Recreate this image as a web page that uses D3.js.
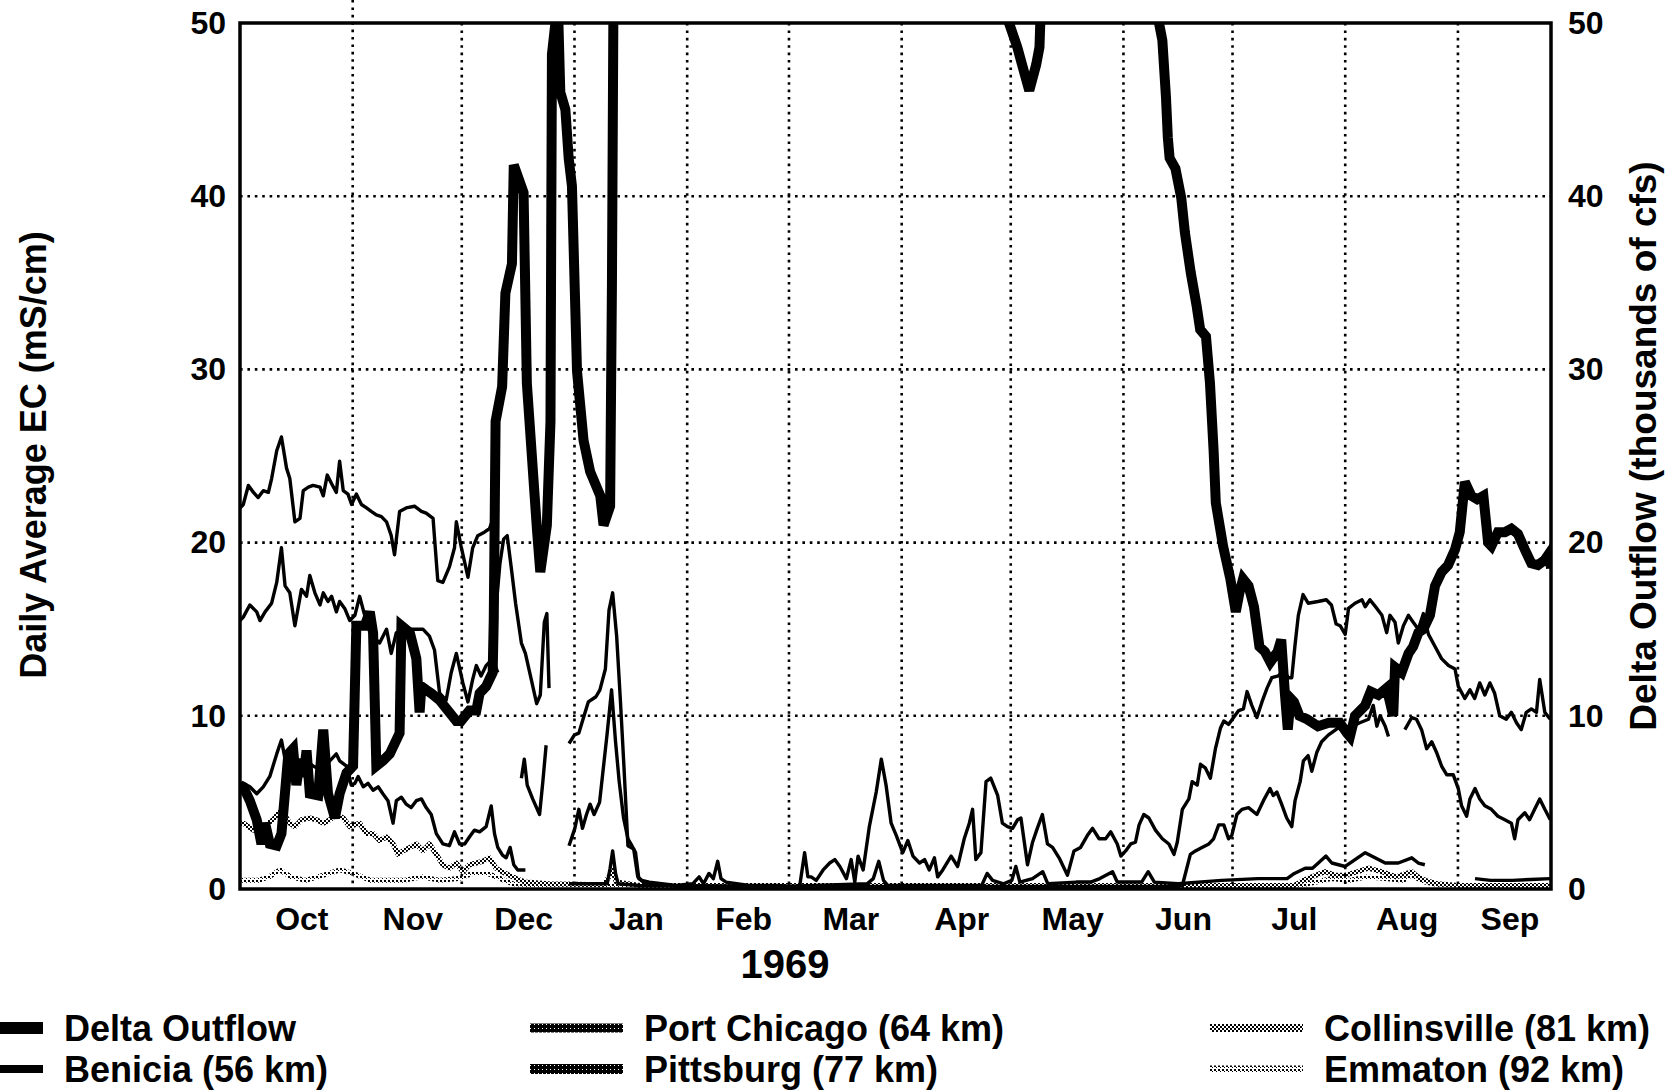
<!DOCTYPE html>
<html>
<head>
<meta charset="utf-8">
<script src="https://cdn.jsdelivr.net/npm/d3@7"></script>
<style>
  body { margin: 0; background: #fff; }
</style>
</head>
<body>
<div id="vis"></div>
<script>
// ---- data (day = days since 1 Oct 1968, value = EC mS/cm or thousands of cfs) ----
const months = ["Oct", "Nov", "Dec", "Jan", "Feb", "Mar", "Apr", "May", "Jun", "Jul", "Aug", "Sep"];
const yTicks = [0, 10, 20, 30, 40, 50];
const yearLabel = "1969";
const legendNames = ["Delta Outflow", "Benicia (56 km)", "Port Chicago (64 km)",
                     "Pittsburg (77 km)", "Collinsville (81 km)", "Emmaton (92 km)"];

// values above 50 run off the top of the chart
const deltaOutflow = [[0,6.0],[0.9,5.9],[2.7,5.1],[4.6,4.0],[5.9,2.6],[6.9,3.8],[8.2,2.6],[10.1,2.5],[11.4,3.2],[13.3,7.8],[14.6,8.1],[15.5,6.0],[16.5,7.5],[17.5,6.5],[18.3,8.0],[19.2,5.5],[21.5,5.4],[22.9,9.2],[24.2,5.5],[26.1,4.1],[27.4,5.5],[29.3,6.7],[31.1,7.1],[32.0,15.2],[34.3,15.2],[35.7,16.0],[36.6,14.8],[37.5,7.1],[39.3,7.4],[41.2,7.8],[43.9,9.0],[44.4,15.2],[46.7,14.8],[48.5,13.3],[49.4,10.2],[49.9,11.7],[51.2,11.5],[52.6,11.3],[54.9,10.9],[57.6,10.2],[59.5,9.7],[60.8,9.7],[63.1,10.3],[65.0,10.3],[65.9,11.3],[67.7,11.7],[69.5,12.5],[69.8,15.6],[70.3,27.0],[72.1,29.0],[73.0,34.4],[74.8,36.1],[75.3,41.8],[78.0,40.2],[78.9,29.2],[81.7,20.7],[82.6,18.3],[84.4,21.0],[85.4,27.0],[85.8,48.2],[86.7,49.9],[87.6,49.9],[88.1,46.0],[89.5,45.0],[90.4,42.2],[91.3,40.6],[92.7,29.9],[94.5,25.9],[96.3,24.1],[99.1,22.7],[100.0,21.0],[101.8,22.1],[102.3,34.8],[102.7,50.5],[103.5,90],[210.5,90],[211.2,50.2],[213.8,48.6],[215.9,47.0],[217.1,46.1],[219.0,47.6],[219.9,48.6],[220.2,50.5],[221,90],[251.8,90],[252.6,50.2],[253.7,49.0],[254.7,45.7],[255.2,43.4],[255.7,42.2],[257.3,41.6],[258.9,39.9],[259.9,37.9],[261.5,35.6],[263.1,33.7],[264.1,32.3],[265.7,31.9],[266.8,29.2],[267.8,25.3],[268.4,22.3],[270.4,19.8],[272.4,17.9],[273.9,16.0],[274.9,17.1],[275.9,17.9],[277.4,17.5],[278.9,16.3],[280.4,14.0],[281.9,13.7],[283.4,13.1],[285.4,13.7],[286.4,14.4],[287.4,11.3],[288.2,9.2],[289.0,11.0],[289.9,10.8],[291.4,10.0],[293.5,9.8],[296.5,9.4],[299.5,9.6],[302.5,9.6],[304.5,9.0],[305.3,8.8],[306.7,10.0],[309.5,10.6],[311.0,11.4],[313.1,11.2],[315.4,11.6],[317.2,10.0],[317.7,12.8],[319.5,12.5],[321.4,13.6],[322.7,14.0],[324.1,14.8],[325.5,15.0],[327.3,15.8],[328.7,17.5],[330.5,18.3],[332.3,18.7],[334.2,19.6],[335.5,20.6],[336.9,23.5],[338.7,22.7],[340.3,22.5],[342.0,22.7],[343.3,20.0],[344.2,19.8],[346.0,20.6],[347.9,20.6],[349.7,20.8],[351.5,20.5],[353.4,19.6],[355.2,18.8],[357.0,18.7],[358.9,19.0],[360.2,19.4],[360.6,18.5]];

const benicia = [[0,22.0],[0.9,22.2],[2.3,23.3],[3.7,22.9],[5,22.6],[6.4,23],[7.8,22.9],[8.7,23.7],[10.1,25.3],[11.4,26.1],[12.8,24.3],[13.7,23.7],[15.1,21.2],[16.5,21.4],[17.4,23],[18.8,23.2],[20.1,23.3],[22,23.2],[22.9,22.7],[24,23.9],[25.2,23.4],[26.5,22.9],[27.4,24.7],[28.4,23],[29.7,22.8],[30.7,22.2],[32,22.8],[33.4,22.2],[34.8,22],[36.1,21.8],[37.5,21.6],[38.9,21.5],[40.3,21.2],[41.6,20.4],[42.5,19.3],[43.9,21.8],[45.7,22],[48,22.1],[49.9,21.8],[51.2,21.7],[53.1,21.4],[54.4,17.8],[55.8,17.7],[57.6,18.6],[59,19.7],[59.5,21.2],[60.8,19.8],[62.7,18],[64,19.7],[65.4,20.4],[67.2,20.6],[68.6,20.8],[69.3,21.2],
  null,
  [70.5,16.4],[71.5,18.8],[72.5,20.2],[73.5,20.4],[74.7,18.4],[75.8,16.5],[77.4,14.2],[78.5,13.6],[80,12.2],[81.6,10.7],[82.6,11.2],[83.7,15.4],[84.4,15.9],[85,11.6],
  null,
  [90.5,8.4],[92,8.9],[93.2,9],[94.2,9.7],[95.8,10.8],[97.9,11.1],[99,11.5],[100.5,12.7],[101.5,16.1],[102.5,17.1],[103.6,14.6],[104.6,11],[105.6,7.1],[106.7,2.5],[108.3,2.3],[109.4,0.7],[110.5,0.5],[112.6,0.4],[120,0.2],[124.5,0.3],[126.3,0.7],[127.5,0.3],[129,0.9],[130.2,0.6],[131.4,1.6],[132.3,0.6],[133.7,0.4],[140,0.2],[148,0.2],[153.9,0.1],[155.3,2.1],[156.2,0.7],[157.1,0.7],[158.5,0.5],[160.4,1.1],[162.2,1.5],[163.6,1.7],[165,1.3],[166.8,0.6],[168.1,1.7],[169.1,0.4],[170,1.9],[171.4,1.1],[173.1,3.6],[175,5.6],[176.4,7.5],[177.7,6],[179.1,3.8],[180.5,3.1],[182.3,2.1],[183.7,2.8],[185.1,1.9],[186.9,1.5],[188.3,1.7],[189.6,1.1],[191,1.8],[191.9,0.7],[193.3,1.1],[195.6,1.9],[197.4,1.3],[199.2,2.9],[200.6,3.8],[201.5,4.6],[202.4,1.7],[203.8,2.1],[205.2,6.2],[206.5,6.4],[208.4,5.4],[209.7,3.8],[211.1,3.6],[212.5,3.5],[213.9,4],[214.8,4.1],[216.6,1.4],[218,2.7],[219.3,3.5],[220.7,4.3],[222.1,2.6],[223.5,2.4],[225.3,1.8],[227.6,0.8],[229.4,2.2],[231.2,2.4],[233.1,3.1],[234.5,3.5],[236.3,2.9],[238.1,2.9],[239.5,3.3],[241.3,2.6],[242.3,1.9],[243.6,2.2],[245,2.6],[246.3,2.7],[247.3,3.7],[248.6,4.3],[250,4.1],[251.8,3.4],[253.7,2.9],[255.5,2.6],[256.9,2],[257.8,2.7],[259.2,4.6],[261,5.2],[261.9,6.2],[263.3,6],[264.2,7.2],[265.5,7],[266.9,6.4],[268.3,8.1],[269.7,9.3],[270.6,9.7],[271.9,9.5],[273.3,9.9],[274.7,10.3],[276,10.4],[277,11.4],[278.3,10.6],[279.7,9.9],[281.1,10.8],[282.5,11.6],[283.8,12.2],[285.6,12.3],[287,12.6],[288.4,12.2],[289.3,12.2],[290.2,14.1],[291.1,15.8],[292.4,17],[293.8,16.5],[296.5,16.6],[298.8,16.7],[300.2,16.4],[301.5,15.3],[302.6,15.2],[304,14.7],[304.9,16.2],[306.7,16.5],[308.6,16.7],[309.5,16.3],[310.8,16.7],[312.7,16.2],[314.1,15.8],[315.4,14.8],[316.3,15.8],[317.7,15.4],[318.6,14.2],[320,15.2],[321.4,15.8],[322.7,15.4],[324.1,15],[325.5,15.9],[326.9,14.7],[328.7,14],[330.5,13.3],[332.4,12.9],[334.2,12.7],[335.1,11.7],[336.9,11],[338.3,11.5],[339.6,11],[341,11.9],[342.4,11.2],[343.8,11.9],[345.1,11.3],[346.5,10],[348.3,9.8],[349.7,10.2],[351.1,9.6],[352.4,9.2],[353.8,10.2],[355.2,10.4],[356.6,10.2],[357.5,12.1],[358.9,10.2],[360.4,9.8]];

const portChicago = [[0,15.5],[0.9,15.7],[2.7,16.4],[4.6,16],[5.5,15.5],[6.9,16],[8.7,16.5],[10.1,17.7],[11.4,19.7],[12.4,17.5],[13.7,17.1],[15.1,15.2],[16.9,17.3],[18.3,16.9],[19.2,18.1],[20.6,17.1],[22,16.4],[22.9,17.1],[24.2,16.6],[25.2,16.9],[26.5,16],[27.4,16.6],[28.8,16.2],[30.2,15.5],[31.6,15.8],[32.9,16.9],[34.3,15.8],[36.1,15],[37.5,14.4],[38.4,14.2],[40.3,15],[41.6,13.6],[43,14.8],[44.8,15],[47.6,15],[50.3,15],[52.1,14.6],[53.5,13.8],[54.9,11.3],[56.7,10.9],[58.1,12.5],[59.5,13.6],[61.3,11.9],[62.7,10.8],[64,12.1],[65,12.9],[66.3,12.3],[67.7,12.9],[69.5,13.3],[70.9,12.5],
  null,
  [77.4,6.4],[78.2,7.5],[79,6],[80.5,5.2],[82.4,4.3],[83.3,6.2],[84.2,8.3],
  null,
  [90.5,2.5],[92.1,3.5],[93.2,4.6],[94.2,3.5],[95.3,4.3],[96.3,4.9],[97.4,4.3],[98.9,5],[100,7.1],[101,9],[102.2,11.5],[103.3,8.5],[104.3,6.2],[105.5,4.1],[106.7,2.9],[107.8,2.5],[108.8,2.1],[109.7,0.6],[111,0.4],[120,0.15],[200,0.15],[258,0.15],[259.2,0.2],[261.4,2],[262.8,2.2],[264.6,2.4],[266.5,2.6],[267.8,2.9],[269.2,3.7],[270.6,3.7],[271.9,2.9],[272.8,3.1],[274.2,4.3],[275.6,4.6],[277.4,4.7],[279.7,4.3],[281.5,5.1],[283.3,5.8],[284.2,5.4],[285.2,5.6],[286.5,4.9],[287.9,4.1],[289.3,3.6],[290.2,5.1],[291.6,6.2],[292.5,7.4],[293.8,7.7],[294.8,6.8],[296.2,7.9],[297.5,8.5],[299.4,8.9],[302.1,9.3],[304,9.1],[306,9.4],[308,9.6],[310.4,9.8],[311.7,10.6],[312.7,9.4],[313.6,10],[315,9.4],[315.9,8.8],
  null,
  [320.4,9.2],[322.3,9.9],[323.6,9.8],[325,9.2],[326.4,8.1],[327.8,8.5],[329.1,7.9],[330.5,7.1],[331.9,6.6],[333.7,6.6],[335.1,5.8],[336,4.8],[337.4,4.2],[338.3,5.2],[339.7,5.8],[341,5.2],[342.4,4.8],[344.2,4.6],[346,4.2],[347.9,4],[349.7,3.8],[350.6,2.9],[351.5,4],[353.4,4.4],[354.7,4],[356.1,4.6],[357.5,5.2],[358.9,4.6],[360.4,4]];

const pittsburg = [[0,6.1],[0.9,6.1],[2.7,5.9],[4.6,5.5],[6.4,5.9],[8.2,6.5],[10.1,7.8],[11.4,8.6],[12.4,7.5],[13.7,8],[15.1,7.4],[16.5,7.1],[18.3,7.4],[20.1,7.1],[22,6.9],[23.8,7.2],[25.6,7.6],[26.5,7.8],[27.4,7.4],[29.3,7.1],[30.6,6],[31.6,6.1],[32.5,6.5],[33.9,5.9],[35.2,6.1],[36.6,5.7],[38,5.9],[39.3,5.5],[40.7,5.1],[42.1,3.8],[43,5.1],[44.4,5.3],[45.7,4.9],[47.1,4.7],[48.5,5.1],[49.9,5.2],[51.2,4.7],[52.6,4.3],[54,3.2],[55.8,2.6],[57.6,2.5],[59,3.3],[60.4,2.6],[61.8,2.6],[63.1,3],[64.5,3.4],[65.9,3.3],[67.7,3.6],[69.1,4.8],[70,3.2],[70.9,2.4],[72.2,1.95],[73.2,1.8],[74.3,2.4],[75.3,1.4],[76.4,1.1],[78.5,1.1],
  null,
  [90.5,0.3],[101,0.3],[101.8,1.2],[102.5,2.2],[103.3,0.9],[104,0.3],[110,0.2],[150,0.15],[172.5,0.3],[174.2,0.6],[175.7,1.6],[177,0.5],[178.2,0.2],[204,0.2],[205.5,0.9],[207,0.5],[210,0.3],[212.3,0.5],[213.4,1.3],[214.5,0.4],[218,0.6],[220.8,1],[222.2,0.3],[230,0.4],[234,0.4],[236.5,0.6],[240,1],[241.3,0.4],[248,0.4],[249.8,1],[251.5,0.4],[258,0.3],[270,0.5],[280,0.6],[288,0.6],[290,0.9],[293,1.2],[295,1.2],[296.6,1.5],[298.7,1.9],[300.3,1.5],[304,1.3],[306.7,1.7],[309.5,2.1],[312.2,1.8],[315,1.5],[318.6,1.5],[322.3,1.8],[324.1,1.5],[325.9,1.4],
  null,
  [339.7,0.6],[344,0.5],[350,0.5],[355,0.55],[360.4,0.6]];

const collinsville = [[0,3.8],[0.9,3.8],[3.7,3.4],[6.4,3.6],[9.1,4],[11.4,4.6],[13.7,3.8],[15.1,3.6],[16.9,4],[19.2,4.1],[21,4],[22.9,3.8],[24.7,4],[26.5,4.3],[28.4,4.1],[30.2,3.6],[32.9,3.8],[34.8,3.2],[36.6,3.2],[38.4,2.8],[40.3,3],[42.1,2.6],[43.5,2],[44.8,2.2],[46.7,2.4],[48.5,2.6],[50.3,2.2],[52.1,2.6],[54,2],[55.8,1.4],[57.6,1.2],[59.5,1.5],[61.3,1],[63.1,1.4],[65,1.5],[66.8,1.6],[68.6,1.8],[70.4,1.2],[72,1],[76,0.6],[78.5,0.4],[85,0.3],[100,0.25],[101.8,0.8],[102.5,1.1],[103.5,0.4],[110,0.2],[290,0.2],[292.5,0.5],[294.8,0.7],[298.5,1],[301,0.8],[304,0.8],[307.5,1],[310.4,1.2],[314,1],[318,0.7],[322.3,1],[324,0.7],[326,0.5],[329.5,0.3],[335,0.2],[360.6,0.2]];

const emmaton = [[0,0.5],[5,0.5],[8,0.7],[11,1.1],[14,0.7],[18,0.5],[23,0.8],[27.5,1.1],[31,0.9],[36,0.5],[45,0.5],[50,0.7],[55,0.5],[60,0.6],[64,0.9],[68,0.9],[70.5,0.7],[75,0.3],[90,0.15],[290,0.15],[296,0.4],[300,0.6],[305,0.5],[310,0.7],[315,0.6],[320,0.5],[322,0.8],[326,0.4],[332,0.15],[360.6,0.15]];

// ---- layout ----
const WIDTH = 1673, HEIGHT = 1090;
const PLOT = {left: 240, right: 1551, top: 23, bottom: 889};
const LAST_DAY = 360.6;
const FONT = "'Liberation Sans', Arial, Helvetica, sans-serif";

const START = Date.UTC(1968, 9, 1);
const toDate = (d) => new Date(START + d * 864e5);

const X_SCALE = d3.scaleUtc()
    .domain([toDate(0), toDate(LAST_DAY)])
    .range([PLOT.left, PLOT.right]);

const Y_SCALE = d3.scaleLinear()   // EC, mS/cm
    .domain([0, 50])
    .range([PLOT.bottom, PLOT.top]);

const Y2_SCALE = d3.scaleLinear()  // outflow, thousands of cfs
    .domain([0, 50])
    .range([PLOT.bottom, PLOT.top]);

const svg = d3.select("#vis")
  .append("svg")
    .attr("width", WIDTH)
    .attr("height", HEIGHT)
    .style("display", "block")
    .attr("font-family", FONT)
    .attr("font-weight", "bold");

svg.append("rect").attr("width", WIDTH).attr("height", HEIGHT).attr("fill", "#fff");

// halftone textures like the scanned original
const defs = svg.append("defs");
function makePattern(id, bg, fg, squares) {
  const p = defs.append("pattern")
      .attr("id", id)
      .attr("width", 4).attr("height", 4)
      .attr("patternUnits", "userSpaceOnUse");
  if (bg) p.append("rect").attr("width", 4).attr("height", 4).attr("fill", bg);
  squares.forEach(s => p.append("rect")
      .attr("x", s[0]).attr("y", s[1]).attr("width", s[2]).attr("height", s[2])
      .attr("fill", fg));
}
makePattern("hatchMid", null, "#000", [[0,0,2],[2,2,2]]);
makePattern("hatchLight", null, "#000", [[0,0,2],[2,2,1]]);
makePattern("hatchDense", "#000", "#fff", [[0,0,1]]);

defs.append("clipPath").attr("id", "plotClip")
  .append("rect")
    .attr("x", PLOT.left).attr("y", PLOT.top)
    .attr("width", PLOT.right - PLOT.left)
    .attr("height", PLOT.bottom - PLOT.top);

// ---- dotted grid ----
const grid = svg.append("g")
    .attr("stroke", "#000")
    .attr("stroke-width", 2.6)
    .attr("stroke-dasharray", "2.6 4.8");

grid.selectAll(".hgrid")
  .data(yTicks.filter(t => t > 0 && t < 50))
  .enter().append("line")
    .attr("x1", PLOT.left).attr("x2", PLOT.right)
    .attr("y1", d => Y_SCALE(d)).attr("y2", d => Y_SCALE(d));

const monthStarts = d3.utcMonth.range(toDate(0), toDate(LAST_DAY));
grid.selectAll(".vgrid")
  .data(monthStarts.slice(1))
  .enter().append("line")
    .attr("x1", d => X_SCALE(d)).attr("x2", d => X_SCALE(d))
    .attr("y1", (d, i) => i === 0 ? 0 : PLOT.top)   // Nov line runs past the frame in the original
    .attr("y2", PLOT.bottom);

// ---- series ----
const LINE = d3.line()
    .defined(d => d !== null)
    .x(d => X_SCALE(toDate(d[0])))
    .y(d => Y_SCALE(d[1]));

const SERIES = [
  {data: emmaton,      stroke: "url(#hatchLight)", width: 5},
  {data: collinsville, stroke: "url(#hatchMid)",   width: 5},
  {data: pittsburg,    stroke: "#000",             width: 3.4},
  {data: portChicago,  stroke: "#000",             width: 3.4},
  {data: benicia,      stroke: "#000",             width: 3.4},
  {data: deltaOutflow, stroke: "#000",             width: 10}
];

svg.append("g")
    .attr("clip-path", "url(#plotClip)")
  .selectAll("path")
  .data(SERIES)
  .enter().append("path")
    .attr("d", s => LINE(s.data))
    .attr("fill", "none")
    .attr("stroke", s => s.stroke)
    .attr("stroke-width", s => s.width)
    .attr("stroke-linejoin", s => s.width > 5 ? "miter" : "round")
    .attr("stroke-miterlimit", 3);

// ---- frame ----
svg.append("rect")
    .attr("x", PLOT.left).attr("y", PLOT.top)
    .attr("width", PLOT.right - PLOT.left)
    .attr("height", PLOT.bottom - PLOT.top)
    .attr("fill", "none")
    .attr("stroke", "#000")
    .attr("stroke-width", 3.5);

// ---- axes ----
function styleAxis(g, size) {
  g.select(".domain").remove();
  g.attr("font-family", FONT).attr("font-size", size).attr("font-weight", "bold");
  g.selectAll("text").attr("fill", "#000");
}

svg.append("g")
    .attr("transform", "translate(" + PLOT.left + ",0)")
    .call(d3.axisLeft(Y_SCALE).tickValues(yTicks).tickSize(0).tickPadding(14))
    .call(g => styleAxis(g, 32));

svg.append("g")
    .attr("transform", "translate(" + PLOT.right + ",0)")
    .call(d3.axisRight(Y2_SCALE).tickValues(yTicks).tickSize(0).tickPadding(17))
    .call(g => styleAxis(g, 32));

// month names sit in the middle of each month
const monthMids = monthStarts.map((d, i) => {
  const end = i + 1 < monthStarts.length ? monthStarts[i + 1] : toDate(LAST_DAY);
  return new Date((d.getTime() + end.getTime()) / 2);
});
svg.append("g")
    .attr("transform", "translate(5," + PLOT.bottom + ")")
    .call(d3.axisBottom(X_SCALE).tickValues(monthMids)
            .tickFormat((d, i) => months[i]).tickSize(0).tickPadding(18))
    .call(g => styleAxis(g, 32));

svg.append("text")
    .attr("x", 785).attr("y", 978)
    .attr("text-anchor", "middle")
    .attr("font-size", 40)
    .text(yearLabel);

svg.append("text")
    .attr("transform", "translate(46,455) rotate(-90)")
    .attr("text-anchor", "middle")
    .attr("font-size", 36)
    .text("Daily Average EC (mS/cm)");

svg.append("text")
    .attr("transform", "translate(1656,446) rotate(-90)")
    .attr("text-anchor", "middle")
    .attr("font-size", 37)
    .text("Delta Outflow (thousands of cfs)");

// ---- legend (two rows, three columns; first column runs off the left edge) ----
const LEGEND_COLS = [-50, 530, 1210];
const LEGEND_ROWS = [1028, 1069];
const SWATCH = [
  {fill: "#000", h: 12},
  {fill: "#000", h: 8},
  {fill: "url(#hatchDense)", h: 9},
  {fill: "url(#hatchDense)", h: 10},
  {fill: "url(#hatchMid)", h: 8},
  {fill: "url(#hatchLight)", h: 7}
];

const legend = svg.append("g")
  .selectAll("g")
  .data(legendNames)
  .enter().append("g")
    .attr("transform", (d, i) =>
      "translate(" + LEGEND_COLS[Math.floor(i / 2)] + "," + LEGEND_ROWS[i % 2] + ")");

legend.append("rect")
    .attr("x", 0).attr("width", 93)
    .attr("y", (d, i) => -SWATCH[i].h / 2)
    .attr("height", (d, i) => SWATCH[i].h)
    .attr("fill", (d, i) => SWATCH[i].fill);

legend.append("text")
    .attr("x", 114).attr("y", 13)
    .attr("font-size", 36)
    .text(d => d);
</script>
</body>
</html>
